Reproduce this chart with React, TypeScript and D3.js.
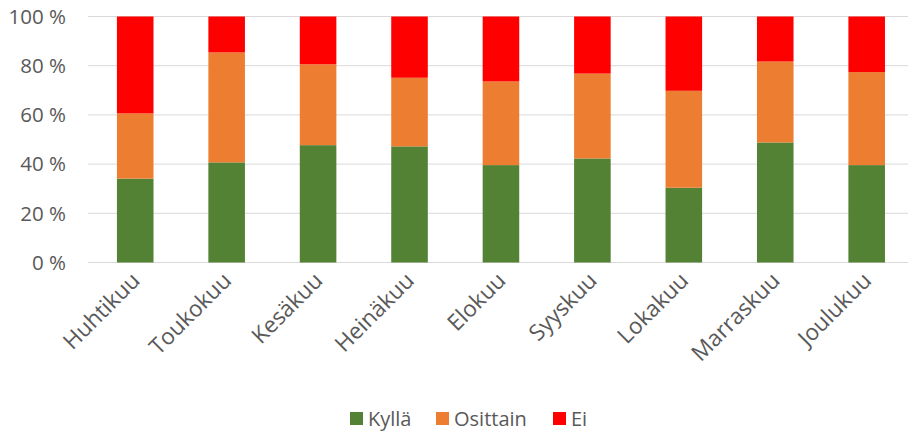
import React from "react";
import * as d3 from "d3";

// Monthly answer shares (%), stacked to 100 %
const months = ["Huhtikuu", "Toukokuu", "Kesäkuu", "Heinäkuu", "Elokuu", "Syyskuu", "Lokakuu", "Marraskuu", "Joulukuu"];
const kylla = [34.1, 40.7, 47.7, 47.2, 39.6, 42.3, 30.4, 48.8, 39.6];
const osittain = [26.5, 44.7, 32.9, 27.9, 34.0, 34.5, 39.4, 32.9, 37.8];
const ei = [39.4, 14.6, 19.4, 24.9, 26.4, 23.2, 30.2, 18.3, 22.6];
const seriesNames = ["Kyllä", "Osittain", "Ei"];
const seriesColors = ["#548235", "#ED7D31", "#FF0000"];
const yTicks = [0, 20, 40, 60, 80, 100];

const W = 908;
const H = 432;
const FONT = "'Open Sans', sans-serif";
const TEXT = "#595959";

export default function App() {
  const rows = months.map((m, i) => ({ month: m, "Kyllä": kylla[i], "Osittain": osittain[i], "Ei": ei[i] }));
  const stacked = d3.stack<any>().keys(seriesNames)(rows);

  const x = d3.scaleBand<string>().domain(months).range([89.5, 912.4]).paddingInner(0.6).paddingOuter(0.3);
  const y = d3.scaleLinear().domain([0, 100]).range([262.5, 16.5]);

  const legendItems = [
    { name: "Kyllä", x: 350 },
    { name: "Osittain", x: 436 },
    { name: "Ei", x: 553 },
  ];

  return (
    <div style={{ position: "absolute", left: 0, top: 0 }}>
      <svg width={W} height={H} style={{ display: "block", background: "#fff" }}>
        {yTicks.map((t) => (
          <g key={t}>
            <line x1={88} x2={W} y1={y(t)} y2={y(t)} stroke="#d9d9d9" strokeWidth={1} />
            <text x={66} y={y(t)} dy="0.36em" textAnchor="end" fontFamily={FONT} fontSize={20.5} fill={TEXT}>
              {t} %
            </text>
          </g>
        ))}
        {stacked.map((s, si) => (
          <g key={s.key} fill={seriesColors[si]}>
            {s.map((d, i) => (
              <rect
                key={i}
                x={x(months[i])}
                width={x.bandwidth()}
                y={y(d[1])}
                height={y(d[0]) - y(d[1])}
              />
            ))}
          </g>
        ))}
        {months.map((m) => {
          const cx = (x(m) as number) + x.bandwidth() / 2 + 6;
          const cy = 282;
          return (
            <text
              key={m}
              x={cx}
              y={cy}
              transform={`rotate(-45 ${cx} ${cy})`}
              textAnchor="end"
              fontFamily={FONT}
              fontSize={22.5}
              fill={TEXT}
            >
              {m}
            </text>
          );
        })}
        {legendItems.map((it, i) => (
          <g key={it.name}>
            <rect x={it.x} y={412} width={13} height={13} fill={seriesColors[i]} />
            <text x={it.x + 18} y={418.5} dy="0.36em" fontFamily={FONT} fontSize={20} fill={TEXT}>
              {it.name}
            </text>
          </g>
        ))}
      </svg>
    </div>
  );
}
